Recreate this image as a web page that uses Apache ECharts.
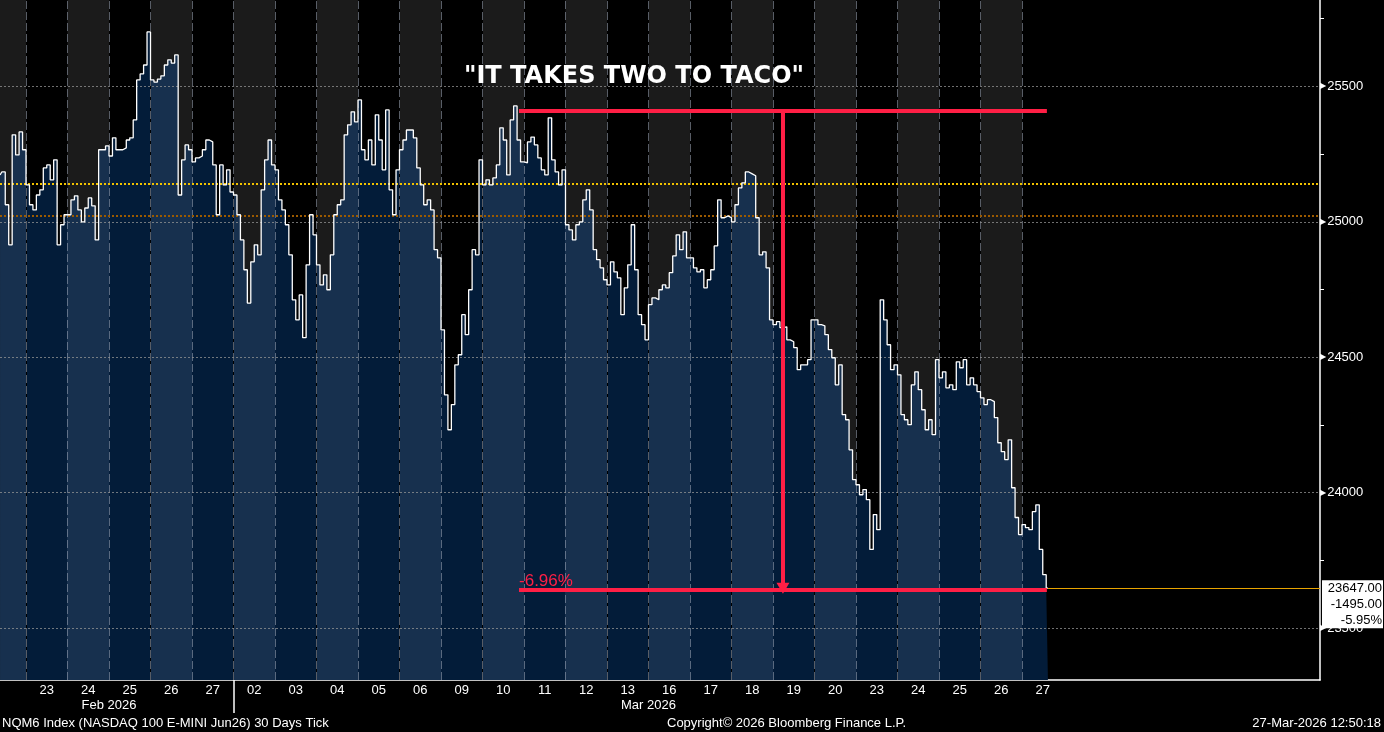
<!DOCTYPE html>
<html>
<head>
<meta charset="utf-8">
<title>NQM6 Index - It takes two to taco</title>
<script src="https://cdn.jsdelivr.net/npm/echarts@6/dist/echarts.min.js"></script>
<style>
  html, body { margin: 0; padding: 0; background: #000; }
  #chart { width: 1384px; height: 732px; }
</style>
</head>
<body>
<div id="chart"></div>
<script>
// one entry per trading session, 20 Feb is only partly on screen
var dayLabels = ['20', '23', '24', '25', '26', '27', '02', '03', '04', '05', '06', '09', '10',
  '11', '12', '13', '16', '17', '18', '19', '20', '23', '24', '25', '26', '27']
var monthLabels = ['Feb 2026', 'Mar 2026']
var monthLabelAt = [3, 16]
var monthStart = 6
var sessionBreaks = [1, 4, 6, 8, 10, 12, 15, 16, 18, 20, 22, 24]

// price samples, 12 per session
var feb20 = [25173, 25184, 25063, 24915, 25321, 25247, 25332, 25266]
var feb23 = [25136, 25063, 25044, 25099, 25118, 25199, 25210, 25155, 25229, 24915, 24989, 25026]
var feb24 = [25026, 25081, 25096, 25044, 25000, 25051, 25088, 25059, 24933, 25266, 25266, 25280]
var feb25 = [25243, 25310, 25266, 25266, 25273, 25302, 25310, 25376, 25524, 25546, 25579, 25701]
var feb26 = [25524, 25516, 25527, 25539, 25579, 25598, 25586, 25616, 25099, 25229, 25284, 25266]
var feb27 = [25221, 25236, 25243, 25266, 25302, 25295, 25210, 25026, 25210, 25136, 25192, 25110]
var mar02 = [25099, 25026, 24933, 24823, 24700, 24852, 24915, 24878, 25118, 25229, 25302, 25210]
var mar03 = [25192, 25081, 25044, 24989, 24878, 24712, 24638, 24730, 24572, 24841, 25026, 24952]
var mar04 = [24841, 24767, 24804, 24749, 24878, 25026, 25063, 25081, 25321, 25358, 25406, 25369]
var mar05 = [25450, 25266, 25229, 25302, 25210, 25395, 25302, 25192, 25413, 25118, 25026, 25192]
var mar06 = [25266, 25302, 25339, 25339, 25310, 25199, 25136, 25063, 25081, 25044, 24897, 24867]
var mar09 = [24601, 24361, 24232, 24325, 24472, 24509, 24657, 24583, 24749, 24897, 24878, 25229]
var mar10 = [25136, 25155, 25136, 25162, 25210, 25347, 25302, 25173, 25376, 25428, 25302, 25221]
var mar11 = [25218, 25295, 25313, 25284, 25236, 25192, 25173, 25384, 25229, 25184, 25136, 25192]
var mar12 = [24989, 24970, 24933, 24989, 25000, 25081, 25118, 25044, 24897, 24860, 24830, 24786]
var mar13 = [24767, 24852, 24815, 24793, 24657, 24756, 24841, 24989, 24823, 24657, 24620, 24564]
var mar16 = [24694, 24719, 24712, 24749, 24767, 24756, 24812, 24874, 24952, 24897, 24963, 24867]
var mar17 = [24867, 24830, 24815, 24823, 24756, 24786, 24823, 24911, 25081, 25015, 25022, 25015]
var mar18 = [25000, 25063, 25125, 25144, 25184, 25177, 25170, 25015, 24878, 24889, 24830, 24638]
var mar19 = [24620, 24631, 24609, 24612, 24564, 24557, 24535, 24454, 24472, 24472, 24491, 24638]
var mar20 = [24638, 24620, 24616, 24583, 24528, 24498, 24398, 24472, 24288, 24269, 24158, 24048]
var mar23 = [24029, 23992, 24011, 23974, 23790, 23919, 23863, 24712, 24638, 24546, 24454, 24472]
var mar24 = [24435, 24288, 24269, 24251, 24398, 24446, 24380, 24306, 24232, 24269, 24214, 24491]
var mar25 = [24424, 24446, 24387, 24398, 24380, 24483, 24461, 24491, 24398, 24424, 24398, 24373]
var mar26 = [24350, 24325, 24343, 24336, 24277, 24184, 24151, 24122, 24195, 24018, 23908, 23845]
var mar27 = [23882, 23871, 23863, 23930, 23955, 23790, 23697, 23647]

var yTicks = [23500, 24000, 24500, 25000, 25500]
var yMinorTicks = [23750, 24250, 24750, 25250, 25750]
var prevClose = 25142
var refLevel = 25022
var lastPrice = 23647
var netChange = -1495
var pctChange = -5.95

// red annotation
var annoHigh = 25411
var annoLow = 23642
var annoFrom = 12.88
var annoTo = 25.6
var annoArrowAt = 19.24
var annoText = '-6.96%'

var sessions = [feb20, feb23, feb24, feb25, feb26, feb27, mar02, mar03, mar04, mar05, mar06,
  mar09, mar10, mar11, mar12, mar13, mar16, mar17, mar18, mar19, mar20, mar23, mar24, mar25, mar26, mar27]
var PER_DAY = 12

var points = []
sessions.forEach(function (vals, k) {
  var shift = k === 0 ? PER_DAY - vals.length : 0
  vals.forEach(function (v, i) {
    points.push([k + (i + shift + 0.5) / PER_DAY, v])
  })
})
var lastX = points[points.length - 1][0]

var xMin = 0.3735
var xMax = 32.181
var yMin = 23308
var yMax = 25819

var RED = '#ff1f45'
var FONT = 'Liberation Sans'

var grayCols = []
var fillPieces = []
var dayCenters = []
var gridLines = []
var breakLines = []
dayLabels.forEach(function (d, k) {
  if (k % 2 === 0 && k < dayLabels.length - 1) {
    grayCols.push([{ xAxis: k, yAxis: yMin }, { xAxis: k + 1, yAxis: yMax }])
  }
  fillPieces.push({ gte: k, lt: k + 1, color: k % 2 ? '#031c39' : '#17304e' })
  if (k > 0) {
    dayCenters.push(k + 0.5)
    gridLines.push([{ coord: [k, yMin] }, { coord: [k, yMax] }])
  }
})
sessionBreaks.forEach(function (k) {
  breakLines.push([{ coord: [k, yMin] }, { coord: [k, yMax] }])
})

var dotted = { color: 'rgba(150,150,150,0.75)', type: [2, 2], width: 1 }
var dashed = { color: 'rgba(160,170,185,0.55)', type: [8, 3], width: 1 }

var hLines = yTicks.map(function (v) {
  return { yAxis: v, lineStyle: dotted }
})
hLines.push({ yAxis: prevClose, lineStyle: { color: '#f2c200', type: [2, 2], width: 2 } })
hLines.push({ yAxis: refLevel, lineStyle: { color: '#9c5a00', type: [2, 2], width: 2 } })

var chart = echarts.init(document.getElementById('chart'))

chart.setOption({
  backgroundColor: '#000',
  animation: false,
  textStyle: { fontFamily: FONT },
  grid: { left: 0, right: 64, top: 0, bottom: 52 },
  visualMap: {
    show: false,
    type: 'piecewise',
    seriesIndex: 0,
    dimension: 0,
    pieces: fillPieces
  },
  xAxis: [{
    type: 'value',
    min: xMin,
    max: xMax,
    axisLine: { show: true, lineStyle: { color: '#fff', width: 1.5 } },
    axisTick: { show: true, customValues: [monthStart], length: 33, lineStyle: { color: '#fff', width: 1.5 } },
    axisLabel: {
      customValues: dayCenters,
      color: '#fff',
      fontSize: 13,
      margin: 4,
      formatter: function (v) { return dayLabels[Math.round(v - 0.5)] }
    },
    splitLine: { show: false }
  }, {
    type: 'value',
    min: xMin,
    max: xMax,
    position: 'bottom',
    axisLine: { show: false },
    axisTick: { show: false },
    axisLabel: {
      customValues: monthLabelAt,
      color: '#fff',
      fontSize: 13,
      margin: 19,
      formatter: function (v) { return monthLabels[monthLabelAt.indexOf(v)] }
    },
    splitLine: { show: false }
  }],
  yAxis: {
    type: 'value',
    position: 'right',
    min: yMin,
    max: yMax,
    axisLine: { show: true, lineStyle: { color: '#fff', width: 1.5 } },
    axisTick: { show: true, customValues: yMinorTicks, length: 4, lineStyle: { color: '#fff' } },
    axisLabel: {
      customValues: yTicks,
      margin: 0,
      formatter: function (v) { return '{t|\u25B6}{v|' + v + '}' },
      rich: {
        t: { fontFamily: 'DejaVu Sans', fontSize: 8, color: '#fff', padding: [0, 1, 0, 0] },
        v: { fontFamily: FONT, fontSize: 13, color: '#fff' }
      }
    },
    splitLine: { show: false }
  },
  series: [{
    name: 'fill',
    type: 'line',
    data: points,
    step: 'middle',
    showSymbol: false,
    silent: true,
    z: 2,
    lineStyle: { opacity: 0 },
    areaStyle: { opacity: 1 },
    markArea: {
      silent: true,
      itemStyle: { color: '#1b1b1b' },
      data: grayCols
    },
    markLine: {
      silent: true,
      symbol: 'none',
      label: { show: false },
      data: breakLines.map(function (l) {
        return [Object.assign({ lineStyle: { color: '#000', width: 1, type: 'solid' } }, l[0]), l[1]]
      }).concat(gridLines.map(function (l) {
        return [Object.assign({ lineStyle: dashed }, l[0]), l[1]]
      })).concat(hLines)
    }
  }, {
    name: 'NQM6 Index',
    type: 'line',
    data: points,
    step: 'middle',
    showSymbol: false,
    silent: true,
    z: 6,
    lineStyle: { color: '#fff', width: 1.3 },
    markLine: {
      silent: true,
      z: 10,
      symbol: 'none',
      label: { show: false },
      data: [
        [{ coord: [annoFrom, annoHigh], lineStyle: { color: RED, width: 4, type: 'solid' } }, { coord: [annoTo, annoHigh] }],
        [{
          coord: [annoFrom, annoLow],
          lineStyle: { color: RED, width: 4, type: 'solid' },
          label: {
            show: true,
            position: 'insideStartTop',
            formatter: annoText,
            color: RED,
            fontSize: 17,
            fontFamily: FONT,
            distance: [0, 0]
          }
        }, { coord: [annoTo, annoLow] }],
        [{ coord: [annoArrowAt, annoHigh], symbol: 'none', lineStyle: { color: RED, width: 4, type: 'solid' } },
          { coord: [annoArrowAt, lastPrice], symbol: 'triangle', symbolSize: [13, 11] }],
        [{
          coord: [lastX, lastPrice],
          lineStyle: { color: '#e8a400', width: 1, type: 'solid' },
          label: {
            show: true,
            position: 'end',
            distance: 2,
            verticalAlign: 'top',
            offset: [0, -8],
            backgroundColor: '#fff',
            padding: [0, 1, 0, 2],
            formatter: '{a|' + lastPrice.toFixed(2) + '}\n{a|' + netChange.toFixed(2) + '}\n{a|' + pctChange.toFixed(2) + '%}',
            rich: { a: { width: 58, align: 'right', color: '#000', fontSize: 13, fontFamily: FONT, lineHeight: 16 } }
          }
        }, { coord: [xMax, lastPrice] }]
      ]
    }
  }],
  graphic: [{
    type: 'text',
    z: 100,
    x: 634,
    y: 77,
    style: {
      text: '"IT TAKES TWO TO TACO"',
      fill: '#fff',
      font: 'bold 24px "DejaVu Sans"',
      textAlign: 'center',
      textVerticalAlign: 'middle'
    }
  }, {
    type: 'text',
    z: 100,
    x: 2,
    y: 723,
    style: { text: 'NQM6 Index (NASDAQ 100 E-MINI Jun26) 30 Days Tick', fill: '#fff', font: '13px "Liberation Sans"', textVerticalAlign: 'middle' }
  }, {
    type: 'text',
    z: 100,
    x: 667,
    y: 723,
    style: { text: 'Copyright\u00A9 2026 Bloomberg Finance L.P.', fill: '#fff', font: '13px "Liberation Sans"', textVerticalAlign: 'middle' }
  }, {
    type: 'text',
    z: 100,
    x: 1381,
    y: 723,
    style: { text: '27-Mar-2026 12:50:18', fill: '#fff', font: '13px "Liberation Sans"', textAlign: 'right', textVerticalAlign: 'middle' }
  }]
})
</script>
</body>
</html>
